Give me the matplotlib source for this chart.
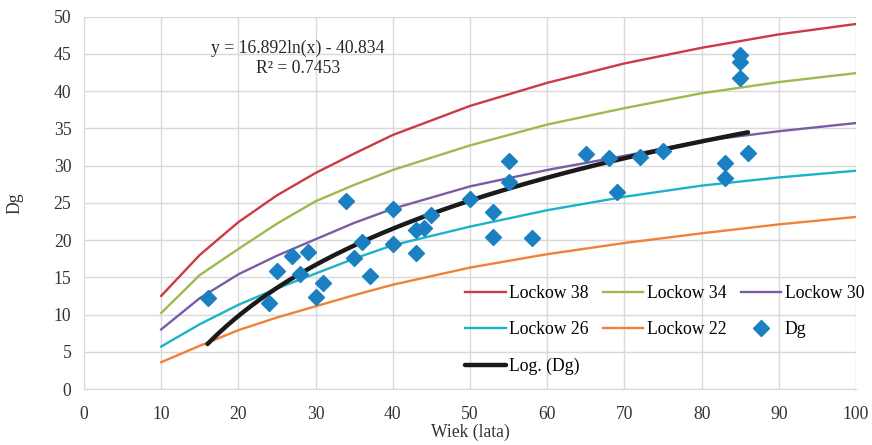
import numpy as np
import matplotlib
matplotlib.use("Agg")
import matplotlib.pyplot as plt

# Lockow site-index curves (age -> Dg)
age = [10, 15, 20, 25, 30, 35, 40, 50, 60, 70, 80, 90, 100]
lockow_38 = [12.5, 18.0, 22.4, 26.0, 29.0, 31.6, 34.1, 38.0, 41.1, 43.7, 45.8, 47.6, 49.0]
lockow_34 = [10.2, 15.3, 18.8, 22.2, 25.2, 27.4, 29.4, 32.7, 35.5, 37.7, 39.7, 41.2, 42.4]
lockow_30 = [8.0, 12.2, 15.4, 17.9, 20.1, 22.3, 24.2, 27.2, 29.4, 31.3, 33.3, 34.6, 35.7]
lockow_26 = [5.7, 8.7, 11.3, 13.5, 15.5, 17.5, 19.3, 21.8, 24.0, 25.8, 27.3, 28.4, 29.3]
lockow_22 = [3.6, 5.8, 7.9, 9.6, 11.1, 12.6, 14.0, 16.3, 18.1, 19.6, 20.9, 22.1, 23.1]

# measured plots
dg_age = [16, 24, 25, 27, 28, 29, 30, 31, 34, 35, 36, 37, 40, 40, 43, 43, 44, 45,
          50, 53, 53, 55, 55, 58, 65, 68, 69, 72, 75, 83, 83, 85, 85, 85, 86]
dg = [12.2, 11.5, 15.9, 17.8, 15.5, 18.4, 12.4, 14.2, 25.3, 17.6, 19.7, 15.2, 19.4, 24.2,
      21.3, 18.2, 21.6, 23.4, 25.5, 23.7, 20.4, 30.6, 27.8, 20.3, 31.5, 31.0, 26.4, 31.1,
      31.9, 30.4, 28.3, 44.8, 43.9, 41.8, 31.7]

EQ_TEXT = "y = 16.892ln(x) - 40.834\nR\u00b2 = 0.7453"

plt.rcParams["font.family"] = ["Liberation Serif", "DejaVu Serif"]
FS = 12.7

fig = plt.figure(figsize=(8.72, 4.45), dpi=100)
ax = fig.add_axes([0.0963, 0.1258, 0.9817 - 0.0963, 0.9629 - 0.1258])

lw = 1.7
h38, = ax.plot(age, lockow_38, color="#CB3A45", lw=lw, label="Lockow 38")
h34, = ax.plot(age, lockow_34, color="#9CBB4E", lw=lw, label="Lockow 34")
h30, = ax.plot(age, lockow_30, color="#7A5BA6", lw=lw, label="Lockow 30")
h26, = ax.plot(age, lockow_26, color="#1BB3C9", lw=lw, label="Lockow 26")
h22, = ax.plot(age, lockow_22, color="#F0803A", lw=lw, label="Lockow 22")

# logarithmic trend of Dg
coef = np.polyfit(np.log(dg_age), dg, 1)
xt = np.linspace(min(dg_age), max(dg_age), 200)
hlog, = ax.plot(xt, coef[0] * np.log(xt) + coef[1], color="#1A1A1A", lw=3.2,
                solid_capstyle="round", label="Log. (Dg)", zorder=3)
hdg, = ax.plot(dg_age, dg, ls="none", marker="D", ms=8, color="#1A80C2",
               label="Dg", zorder=4)

ax.text(27.7, 44.4, EQ_TEXT, ha="center", va="center", fontsize=FS,
        linespacing=1.25, color="#262626")

ax.set_xlim(0, 100)
ax.set_ylim(0, 50)
ax.set_xticks(range(0, 101, 10))
ax.set_yticks(range(0, 51, 5))
ax.grid(True, color="#D9D9D9", lw=1.0)
ax.set_axisbelow(True)
for s in ["top", "right"]:
    ax.spines[s].set_visible(False)
for s in ["left", "bottom"]:
    ax.spines[s].set_color("#D9D9D9")
ax.tick_params(length=0, labelsize=FS, colors="#333333")
ax.tick_params(axis="x", pad=12)
ax.tick_params(axis="y", pad=9)
ax.set_xlabel("Wiek (lata)", fontsize=FS, color="#333333", labelpad=0.5)
ax.set_ylabel("Dg", fontsize=FS, color="#333333", labelpad=22)

handles = [h38, h26, hlog, h34, h22, h30, hdg]
ax.legend(handles=handles, labels=[h.get_label() for h in handles], ncol=3,
          loc="lower right", bbox_to_anchor=(1.031, -0.005), frameon=False,
          fontsize=FS, handlelength=2.3, handletextpad=0.2, columnspacing=0.8,
          labelspacing=1.09, borderpad=0.4)

fig.savefig("out.png", dpi=100)
